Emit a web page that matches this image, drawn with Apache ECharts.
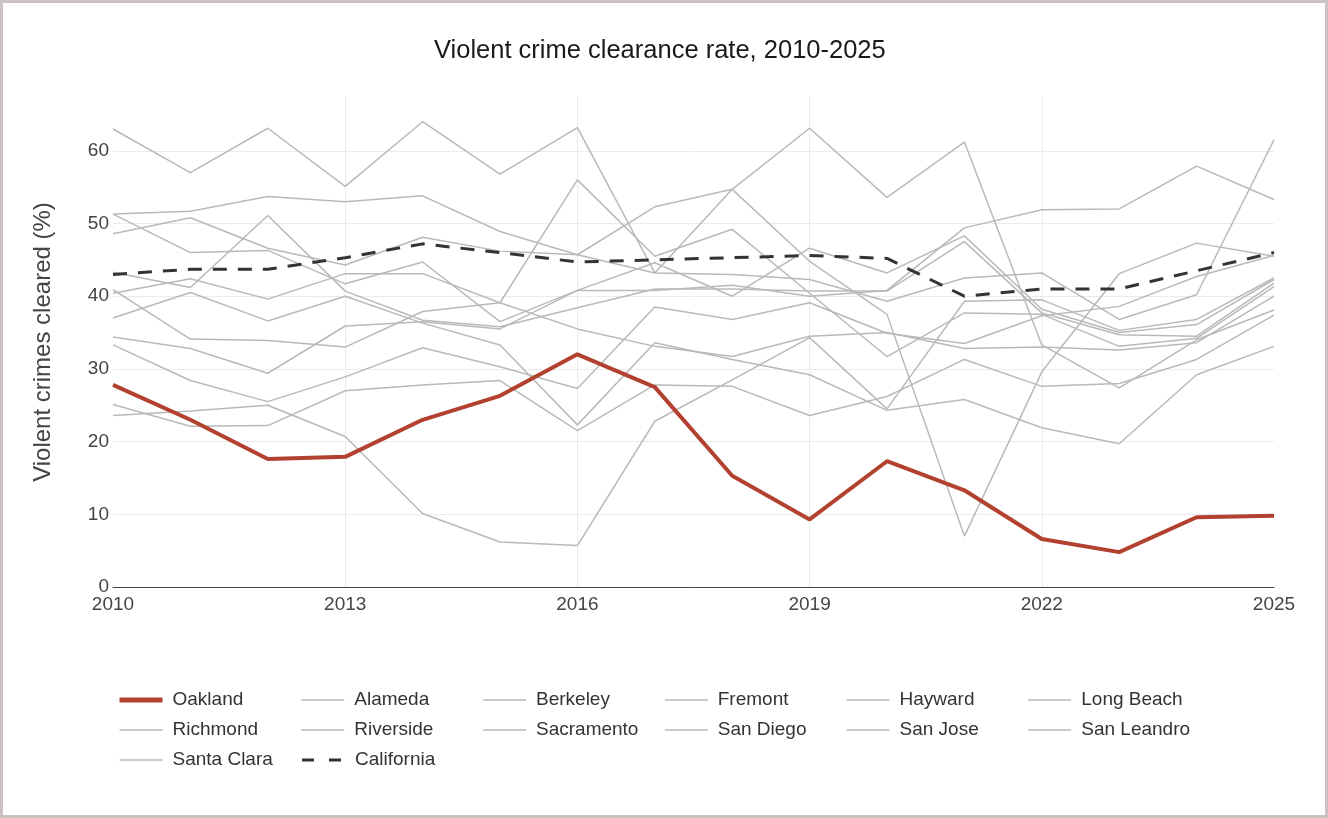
<!DOCTYPE html>
<html>
<head>
<meta charset="utf-8">
<title>Violent crime clearance rate, 2010-2025</title>
<script src="https://cdn.jsdelivr.net/npm/echarts@6/dist/echarts.min.js"></script>
<style>
html,body{margin:0;padding:0;background:#fff;}
#wrap{position:relative;width:1328px;height:818px;}
#main{position:absolute;left:0;top:0;width:1328px;height:818px;}
#frame{position:absolute;left:0;top:0;width:1328px;height:818px;box-sizing:border-box;border:3px solid #cbc2c4;pointer-events:none;}
</style>
</head>
<body>
<div id="wrap"><div id="main"></div><div id="frame"></div></div>
<script>
var years = [2010, 2011, 2012, 2013, 2014, 2015, 2016, 2017, 2018, 2019, 2020, 2021, 2022, 2023, 2024, 2025];

var oakland     = [27.8, 23.0, 17.6, 17.9, 23.0, 26.3, 32.0, 27.5, 15.3, 9.3, 17.3, 13.3, 6.6, 4.8, 9.6, 9.8];
var california  = [43.0, 43.7, 43.7, 45.3, 47.2, 46.0, 44.7, 45.0, 45.3, 45.6, 45.2, 40.0, 41.0, 41.0, 43.5, 46.0];

var alameda     = [63.0, 57.0, 63.1, 55.1, 64.0, 56.8, 63.2, 43.2, 54.7, 63.1, 53.6, 61.2, 33.3, 27.4, 34.0, 38.1];
var berkeley    = [51.3, 51.7, 53.7, 53.0, 53.8, 48.9, 45.7, 52.3, 54.7, 44.8, 37.5, 7.0, 29.6, 43.1, 47.3, 45.5];
var fremont     = [51.3, 46.0, 46.3, 41.7, 44.7, 36.5, 40.8, 44.6, 40.0, 46.6, 43.2, 48.3, 38.2, 35.0, 36.1, 42.3];
var hayward     = [48.6, 50.8, 46.6, 44.3, 48.1, 46.2, 45.7, 43.2, 43.0, 42.3, 39.3, 42.5, 43.2, 36.8, 40.2, 61.5];
var longBeach   = [43.3, 41.2, 51.1, 40.7, 36.7, 35.8, 38.4, 41.0, 41.0, 40.7, 40.7, 47.5, 37.7, 34.7, 34.5, 41.8];
var richmond    = [40.4, 42.4, 39.6, 43.1, 43.1, 39.1, 56.0, 45.5, 49.2, 40.4, 31.7, 37.7, 37.5, 33.1, 34.2, 41.3];
var riverside   = [40.9, 34.1, 33.9, 33.0, 37.9, 39.1, 35.5, 33.1, 31.7, 34.5, 35.0, 32.8, 33.0, 32.6, 33.6, 40.0];
var sacramento  = [37.0, 40.5, 36.6, 40.0, 36.3, 33.3, 22.3, 33.6, 31.3, 29.2, 24.3, 25.8, 21.9, 19.7, 29.2, 33.1];
var sanDiego    = [34.4, 32.8, 29.4, 35.9, 36.5, 35.5, 40.8, 40.8, 41.5, 40.0, 40.8, 49.4, 51.9, 52.0, 57.9, 53.3];
var sanJose     = [33.3, 28.4, 25.5, 28.9, 32.9, 30.3, 27.3, 38.5, 36.8, 39.1, 34.9, 33.5, 37.3, 38.6, 42.7, 45.6];
var sanLeandro  = [25.1, 22.1, 22.2, 27.0, 27.8, 28.4, 21.5, 27.8, 27.6, 23.6, 26.2, 31.3, 27.6, 28.0, 31.3, 37.4];
var santaClara  = [23.6, 24.2, 25.0, 20.7, 10.1, 6.2, 5.7, 22.8, 28.5, 34.3, 24.5, 39.3, 39.5, 35.3, 36.8, 42.5];

var cityNames = ['Alameda', 'Berkeley', 'Fremont', 'Hayward', 'Long Beach', 'Richmond', 'Riverside',
	'Sacramento', 'San Diego', 'San Jose', 'San Leandro', 'Santa Clara'];
var cityValues = [alameda, berkeley, fremont, hayward, longBeach, richmond, riverside,
	sacramento, sanDiego, sanJose, sanLeandro, santaClara];

var yTicks = [0, 10, 20, 30, 40, 50, 60];

function pairs(vals) {
	var out = [];
	for (var i = 0; i < years.length; i++) {
		out.push([years[i], vals[i]]);
	}
	return out;
}

function init() {
	var chart = echarts.init(document.getElementById('main'));
	var font = '"Liberation Sans", Arial, sans-serif';

	var series = [];
	for (var i = 0; i < cityNames.length; i++) {
		series.push({
			name: cityNames[i],
			type: 'line',
			data: pairs(cityValues[i]),
			symbol: 'none',
			z: 2,
			lineStyle: { color: '#b9b9b9', width: 1.5 },
			itemStyle: { color: '#b9b9b9' }
		});
	}
	series.push({
		name: 'California',
		type: 'line',
		data: pairs(california),
		symbol: 'none',
		z: 3,
		lineStyle: { color: '#333333', width: 3, type: [14, 11] },
		itemStyle: { color: '#333333' }
	});
	series.push({
		name: 'Oakland',
		type: 'line',
		data: pairs(oakland),
		symbol: 'none',
		z: 4,
		lineStyle: { color: '#b3412f', width: 4 },
		itemStyle: { color: '#b3412f' }
	});

	// legend entries: plain line icons, the state average dashed
	var legendData = [{ name: 'Oakland', lineStyle: { width: 5 } }];
	for (var j = 0; j < cityNames.length; j++) {
		legendData.push({ name: cityNames[j], lineStyle: { width: 1.5 } });
	}
	legendData.push({ name: 'California', lineStyle: { width: 3, type: [12, 15] } });

	var option = {
		animation: false,
		title: {
			text: 'Violent crime clearance rate, 2010-2025',
			left: 429,
			top: 33,
			textStyle: { fontFamily: font, fontSize: 25.5, fontWeight: 'normal', color: '#1a1a1a' }
		},
		legend: {
			left: 117,
			top: 690,
			width: 1180,
			padding: 0,
			itemWidth: 43,
			itemHeight: 20,
			itemGap: 10,
			itemStyle: { opacity: 0 },
			data: legendData,
			textStyle: {
				fontFamily: font,
				fontSize: 19,
				color: '#333',
				width: 118,
				lineHeight: 20,
				padding: [0, 0, 0, 5]
			}
		},
		grid: {
			left: 113,
			right: 54,
			top: 97,
			bottom: 231
		},
		xAxis: {
			type: 'value',
			min: 2010,
			max: 2025,
			interval: 3,
			axisLine: { show: true, lineStyle: { color: '#444', width: 1 } },
			axisTick: { show: false },
			axisLabel: {
				fontFamily: font,
				fontSize: 19,
				color: '#444',
				margin: 8,
				formatter: function (v) { return String(v); }
			},
			splitLine: {
				show: true,
				showMinLine: false,
				showMaxLine: false,
				lineStyle: { color: '#ebebeb', width: 1 }
			}
		},
		yAxis: {
			type: 'value',
			min: yTicks[0],
			max: 67.4,
			interval: 10,
			name: 'Violent crimes cleared (%)',
			nameLocation: 'middle',
			nameGap: 58,
			nameTextStyle: { fontFamily: font, fontSize: 24, color: '#444' },
			axisLine: { show: false },
			axisTick: { show: false },
			axisLabel: {
				fontFamily: font,
				fontSize: 19,
				color: '#444',
				margin: 4,
				formatter: function (v) { return yTicks.indexOf(v) >= 0 ? String(v) : ''; }
			},
			splitLine: {
				show: true,
				showMaxLine: false,
				lineStyle: { color: '#ebebeb', width: 1 }
			}
		},
		series: series
	};
	chart.setOption(option);
}
init();
</script>
</body>
</html>
